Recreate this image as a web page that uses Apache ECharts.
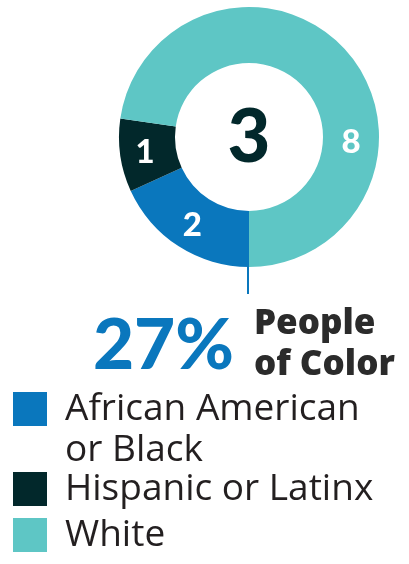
<!DOCTYPE html>
<html>
<head>
<meta charset="utf-8">
<script src="https://cdn.jsdelivr.net/npm/echarts@6/dist/echarts.min.js"></script>
<style>
  html, body { margin: 0; padding: 0; background: #ffffff; }
  #chart { width: 409px; height: 564px; }
</style>
</head>
<body>
<div id="chart"></div>
<script>
const categories = ['African American or Black', 'Hispanic or Latinx', 'White'];
const legendLines = [['African American', 'or Black'], ['Hispanic or Latinx'], ['White']];
const values = [2, 1, 8];
const peopleOfColorIdx = [0, 1];
const colors = ['#0a77bd', '#02282b', '#5ec6c5'];

const total = values.reduce((a, b) => a + b, 0);
const poc = peopleOfColorIdx.reduce((a, i) => a + values[i], 0);
const pct = Math.round(poc / total * 100);

const FONT = 'Lato, "Open Sans", sans-serif';
const LFONT = '"Open Sans", Lato, sans-serif';
const chart = echarts.init(document.getElementById('chart'), null, { renderer: 'canvas' });

function legendFor(i, top, padTop) {
  const txt = { fontFamily: LFONT, fontSize: 37, color: '#231f20', lineHeight: 41 };
  return {
    orient: 'vertical',
    left: 13,
    top: top,
    padding: 0,
    itemWidth: 34,
    itemHeight: 34,
    icon: 'rect',
    selectedMode: false,
    data: [categories[i]],
    formatter: () => legendLines[i].map(s => '{a|' + s + '}').join('\n'),
    textStyle: Object.assign({}, txt, {
      padding: [padTop, 0, 0, 13],
      rich: { a: txt }
    })
  };
}

chart.setOption({
  animation: false,
  color: colors,
  legend: [
    legendFor(0, 347.5, 41),
    legendFor(1, 468.5, 0),
    legendFor(2, 514.5, 0)
  ],
  series: [{
    type: 'pie',
    center: [249, 137],
    radius: [74, 130],
    startAngle: -90,
    clockwise: true,
    avoidLabelOverlap: false,
    itemStyle: { borderWidth: 0 },
    label: {
      show: true,
      position: 'inside',
      formatter: '{c}',
      color: '#ffffff',
      fontFamily: FONT,
      fontWeight: 900,
      fontSize: 33
    },
    labelLine: { show: false },
    labelLayout: function (p) {
      if (p.dataIndex === 2) {
        return { x: 351, y: 142, align: 'center', verticalAlign: 'middle' };
      }
      return {};
    },
    emphasis: { disabled: true },
    data: categories.map((c, i) => ({ name: c, value: values[i] }))
  }],
  graphic: [
    {
      type: 'text',
      x: 249, y: 138,
      style: {
        text: String(poc),
        fontFamily: FONT, fontWeight: 900, fontSize: 74,
        fill: '#02282b', align: 'center', verticalAlign: 'middle'
      }
    },
    {
      type: 'line',
      shape: { x1: 248, y1: 266, x2: 248, y2: 294 },
      style: { stroke: '#0a77bd', lineWidth: 2 }
    },
    {
      type: 'text',
      x: 234, y: 346,
      style: {
        text: pct + '%',
        fontFamily: FONT, fontWeight: 900, fontSize: 71,
        fill: '#0a77bd', align: 'right', verticalAlign: 'middle'
      }
    },
    {
      type: 'text',
      x: 254, y: 345,
      style: {
        text: 'People\nof Color',
        fontFamily: '"Open Sans", Lato, sans-serif', fontWeight: 800, fontSize: 35, lineHeight: 41,
        fill: '#2b2b2b', align: 'left', verticalAlign: 'middle'
      }
    }
  ]
});
</script>
</body>
</html>
